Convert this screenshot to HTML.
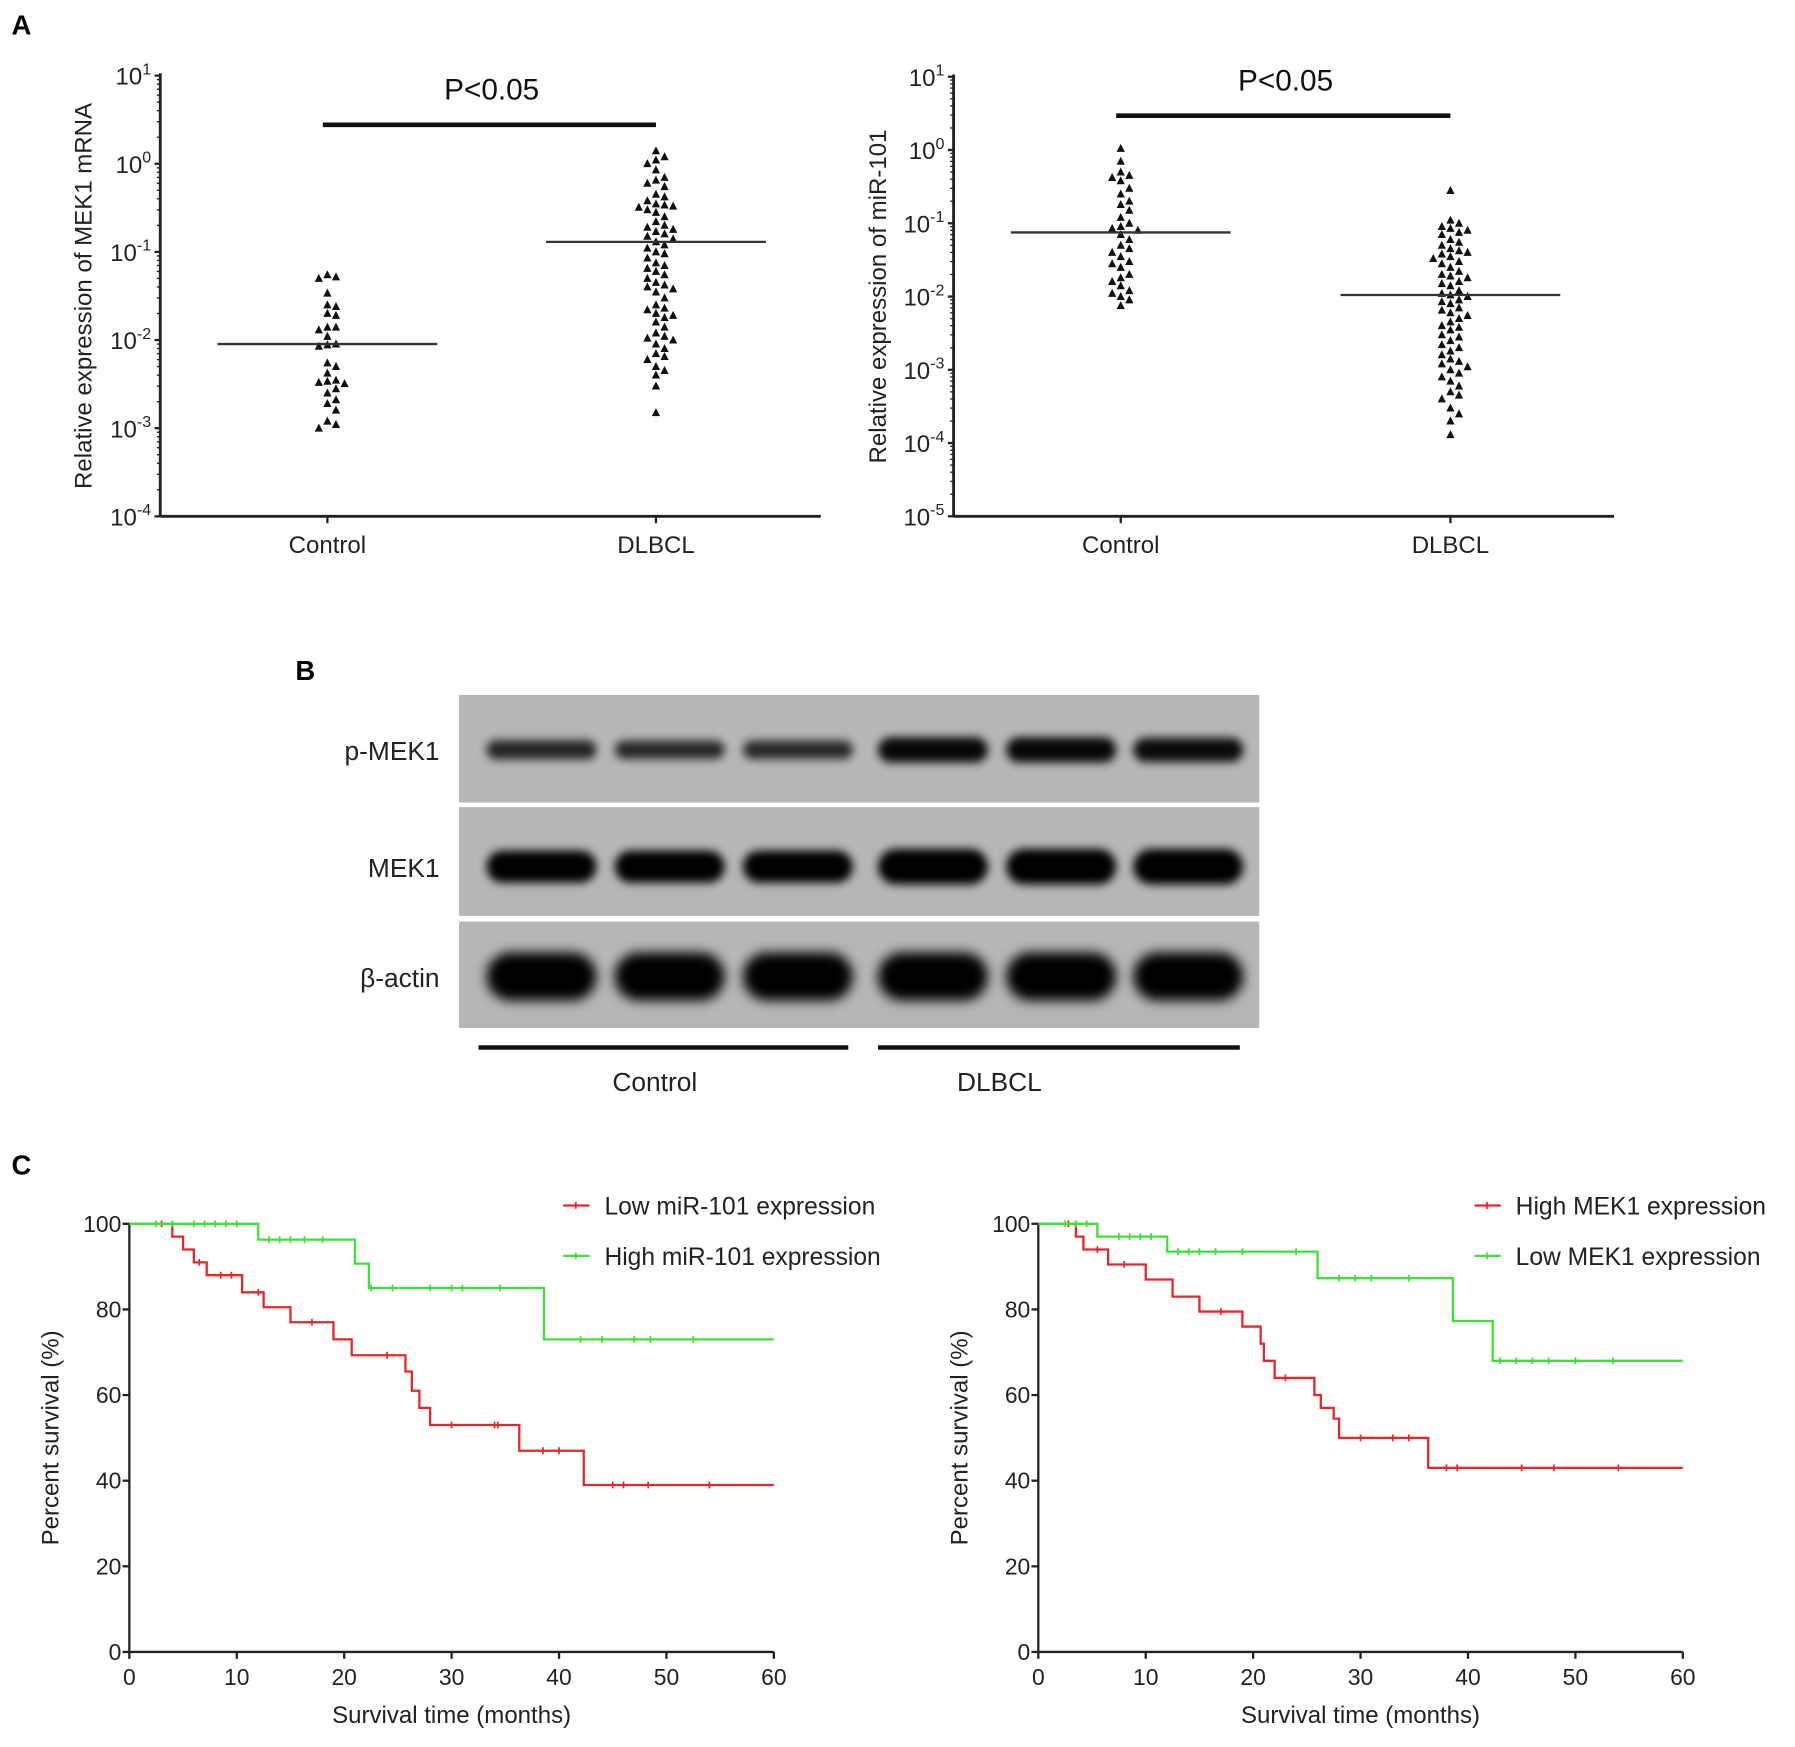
<!DOCTYPE html>
<html><head><meta charset="utf-8"><style>
html,body{margin:0;padding:0;background:#fff;}
svg{display:block;font-family:"Liberation Sans",Arial,sans-serif;}
</style></head><body>
<svg id="fig" width="1795" height="1747" viewBox="0 0 1568 1526" xmlns="http://www.w3.org/2000/svg">
<defs>
<filter id="blur" x="-20%" y="-50%" width="140%" height="200%"><feGaussianBlur stdDeviation="4"/></filter>
<filter id="blur2" x="-20%" y="-50%" width="140%" height="200%"><feGaussianBlur stdDeviation="5"/></filter>
</defs>
<g id="root"></g>
</svg>
<script>
// ---------- Panel A data ----------
const mekCategories = ["Control","DLBCL"];
const mekControl = [0.055,0.052,0.05,0.034,0.025,0.024,0.02,0.019,0.014,0.014,0.013,0.011,0.009,0.0088,0.0085,0.0055,0.005,0.0042,0.0035,0.0034,0.0033,0.0032,0.0028,0.0025,0.0021,0.0019,0.0016,0.0012,0.0011,0.001];
const mekDLBCL = [1.4,1.2,1.1,1.0,0.85,0.7,0.65,0.6,0.55,0.45,0.42,0.38,0.35,0.34,0.33,0.32,0.3,0.28,0.25,0.22,0.2,0.19,0.18,0.17,0.16,0.15,0.14,0.13,0.12,0.11,0.1,0.095,0.085,0.075,0.07,0.065,0.06,0.055,0.05,0.045,0.042,0.04,0.038,0.035,0.03,0.025,0.023,0.022,0.02,0.019,0.018,0.016,0.014,0.012,0.011,0.0105,0.01,0.009,0.008,0.007,0.0065,0.006,0.005,0.0045,0.004,0.003,0.0015];
const mekMedians = [0.009,0.13];
const mekTickExps = [1,0,-1,-2,-3,-4];
const mirControl = [1.05,0.7,0.5,0.45,0.42,0.38,0.3,0.25,0.2,0.18,0.15,0.12,0.1,0.09,0.085,0.08,0.07,0.06,0.05,0.045,0.04,0.035,0.03,0.028,0.025,0.02,0.018,0.016,0.014,0.012,0.011,0.01,0.009,0.0075];
const mirDLBCL = [0.28,0.11,0.1,0.09,0.085,0.08,0.075,0.07,0.06,0.055,0.05,0.045,0.042,0.04,0.038,0.035,0.033,0.03,0.028,0.025,0.022,0.02,0.019,0.018,0.016,0.015,0.014,0.012,0.011,0.0105,0.01,0.009,0.0085,0.008,0.007,0.0065,0.006,0.0055,0.005,0.0045,0.004,0.0038,0.0035,0.003,0.0028,0.0025,0.0022,0.002,0.0018,0.0016,0.0014,0.0013,0.0012,0.0011,0.001,0.0009,0.0008,0.0007,0.0006,0.0005,0.00045,0.0004,0.0003,0.00025,0.0002,0.00013];
const mirMedians = [0.075,0.0105];
const mirTickExps = [1,0,-1,-2,-3,-4,-5];

// ---------- Panel C data ----------
const kmTicksX = [0,10,20,30,40,50,60];
const kmTicksY = [0,20,40,60,80,100];
const lowMirTimes = [0,4,5,6,7.2,10.5,12.5,15,19,20.7,25.7,26.3,27,28,36.3,42.3,60];
const lowMirSurv  = [100,97,94,91,88,84,80.5,77,73,69.3,65.5,61,57,53,47,39,39];
const lowMirCens  = [3,6.5,8.5,9.5,12,17,24,30,34,34.3,38.5,40,45,46,48.3,54];
const highMirTimes = [0,12,21,22.3,38.6,60];
const highMirSurv  = [100,96.3,90.7,85,73,73];
const highMirCens  = [2.5,4,6,7,8,9,10,13,14,15,16.3,18,22.5,24.5,28,30,31,34.5,42,44,47,48.5,52.5];
const highMekTimes = [0,3.5,4.2,6.5,10,12.5,15,19,20.7,21,22,25.7,26.3,27.5,28,36.3,60];
const highMekSurv  = [100,97,94,90.5,87,83,79.5,76,72,68,64,60,57,54.5,50,43,43];
const highMekCens  = [2.8,5.5,8,17,23,30,33,34.5,38,39,45,48,54];
const lowMekTimes = [0,5.5,12,26,38.6,42.3,60];
const lowMekSurv  = [100,97,93.5,87.3,77.3,68,68];
const lowMekCens  = [2.5,3.5,4.5,7.5,8.5,9.5,10.5,13,14,15,16.5,19,24,28,29.5,31,34.5,43,44.5,46,47.5,50,53.5];

// ---------- Panel B data ----------
const blotLanes = ["Control 1","Control 2","Control 3","DLBCL 1","DLBCL 2","DLBCL 3"];
const pMekIntensity = [0.55,0.5,0.5,0.9,0.9,0.85];

const NS="http://www.w3.org/2000/svg";
const root=document.getElementById('root');
function mk(tag,attrs,parent){const e=document.createElementNS(NS,tag);for(const k in attrs)e.setAttribute(k,attrs[k]);(parent||root).appendChild(e);return e;}
function txt(s,attrs,parent){const e=mk('text',attrs,parent);e.textContent=s;return e;}

let L=txt('A',{x:10,y:30,'font-size':24,'font-weight':'bold'});

L=txt('B',{x:258,y:594,'font-size':24,'font-weight':'bold'});

L=txt('C',{x:10,y:1026,'font-size':24,'font-weight':'bold'});


function scatterPanel(cfg){
  const g=mk('g',{});
  
  
  const maxE=cfg.exps[0],minE=cfg.exps[cfg.exps.length-1];
  const y=v=>cfg.y0+(maxE-Math.log10(v))*(cfg.y1-cfg.y0)/(maxE-minE);
  const ya=mk('line',{x1:cfg.x0,y1:cfg.y0-2,x2:cfg.x0,y2:cfg.y1,stroke:'#222','stroke-width':2.5},g);
  
  const xa=mk('line',{x1:cfg.x0,y1:cfg.y1,x2:cfg.x2,y2:cfg.y1,stroke:'#222','stroke-width':2.5},g);
  
  cfg.exps.forEach(e=>{
    const yy=y(Math.pow(10,e));
    mk('line',{x1:cfg.x0-5,y1:yy,x2:cfg.x0,y2:yy,stroke:'#222','stroke-width':2},g);
    const t=mk('text',{x:cfg.x0-8,y:yy+8,'font-size':21,'text-anchor':'end',fill:'#222'},g);
    
    const a=document.createElementNS(NS,'tspan');a.textContent='10';t.appendChild(a);
    const b=document.createElementNS(NS,'tspan');b.setAttribute('dy',-9);b.setAttribute('font-size',14);b.textContent=String(e);t.appendChild(b);
    if(e>minE){for(let m=2;m<10;m++){const ym=y(m*Math.pow(10,e-1));mk('line',{x1:cfg.x0-3,y1:ym,x2:cfg.x0,y2:ym,stroke:'#222','stroke-width':1.2},g);}}
  });
  const tt=txt(cfg.title,{transform:`translate(${cfg.titleX},${(cfg.y0+cfg.y1)/2}) rotate(-90)`,'font-size':21,'text-anchor':'middle',fill:'#222'},g);
  
  const groups=[cfg.control,cfg.dlbcl];
  mekCategories.forEach((c,i)=>{
    const cx=cfg.cats[i];
    mk('line',{x1:cx,y1:cfg.y1,x2:cx,y2:cfg.y1+6,stroke:'#222','stroke-width':2},g);
    const t=txt(c,{x:cx,y:cfg.y1+32,'font-size':21,'text-anchor':'middle',fill:'#222'},g);
    
    const placed=[];
    const vals=groups[i].slice().sort((a,b)=>b-a);
    vals.forEach(v=>{
      const py=y(v);let off=0;
      for(let k=0;k<40;k++){const cand=(k%2?1:-1)*Math.ceil(k/2)*7.5;
        if(placed.every(p=>Math.hypot(p[0]-cand,p[1]-py)>6.8)){off=cand;break;}}
      placed.push([off,py]);
      const px=cx+off;
      const tri=mk('polygon',{points:`${px},${py-4} ${px-3.6},${py+3} ${px+3.6},${py+3}`,fill:'#111'},g);
      
    });
    const my=y(cfg.medians[i]);
    const ml=mk('line',{x1:cx-96,y1:my,x2:cx+96,y2:my,stroke:'#333','stroke-width':2},g);
    
  });
  const sb=mk('line',{x1:cfg.cats[0]-4,y1:cfg.barY,x2:cfg.cats[1],y2:cfg.barY,stroke:'#111','stroke-width':4},g);
  
  const pt=txt('P<0.05',{x:(cfg.cats[0]+cfg.cats[1])/2,y:cfg.barY-22,'font-size':26,'text-anchor':'middle',fill:'#111'},g);
  
}
scatterPanel({name:'mek1-mrna-scatter',x0:140,x2:717,y0:66,y1:451,exps:mekTickExps,cats:[286,573],control:mekControl,dlbcl:mekDLBCL,medians:mekMedians,title:'Relative expression of MEK1 mRNA',titleX:80,barY:109});
scatterPanel({name:'mir101-scatter',x0:833,x2:1410,y0:67,y1:451,exps:mirTickExps,cats:[979,1267],control:mirControl,dlbcl:mirDLBCL,medians:mirMedians,title:'Relative expression of miR-101',titleX:774,barY:101});

// ---------- Panel B ----------
(function(){
  const g=mk('g',{});
  
  const rows=[{n:'p-MEK1',y0:607,y1:701,cy:655,h:18},{n:'MEK1',y0:705,y1:800,cy:757,h:28},{n:'β-actin',y0:805,y1:898,cy:853,h:42}];
  const laneX=[473,585,697,815,927,1038];
  rows.forEach((r,ri)=>{
    const rr=mk('rect',{x:401,y:r.y0,width:699,height:r.y1-r.y0,fill:'#b6b6b6'},g);
    
    blotLanes.forEach((ln,i)=>{
      let h=r.h,op=1;
      if(ri===0){h=r.h*(0.5+0.8*pMekIntensity[i]);op=0.55+0.45*pMekIntensity[i];}
      if(ri===1&&i>=3)h=r.h+3;
      const b=mk('rect',{x:laneX[i]-48,y:r.cy-h/2,width:96,height:h,rx:h/2,fill:'#050505',opacity:op,filter:ri===2?'url(#blur2)':'url(#blur)'},g);
      
    });
    const t=txt(r.n,{x:384,y:r.cy+9,'font-size':23,'text-anchor':'end',fill:'#222'},g);
    
  });
  const l1=mk('line',{x1:418,y1:915,x2:741,y2:915,stroke:'#111','stroke-width':4},g);
  
  const l2=mk('line',{x1:767,y1:915,x2:1083,y2:915,stroke:'#111','stroke-width':4},g);
  
  let t=txt('Control',{x:572,y:953,'font-size':23,'text-anchor':'middle',fill:'#222'},g);
  
  t=txt('DLBCL',{x:873,y:953,'font-size':23,'text-anchor':'middle',fill:'#222'},g);
  
})();

// ---------- Panel C ----------
function kmPanel(cfg){
  const g=mk('g',{});
  
  const X=t=>cfg.x0+t*(cfg.x1-cfg.x0)/60;
  const Y=s=>cfg.y0-s*(cfg.y0-cfg.y1)/100;
  const ya=mk('line',{x1:cfg.x0,y1:cfg.y1-1,x2:cfg.x0,y2:cfg.y0,stroke:'#222','stroke-width':2},g);
  
  const xa=mk('line',{x1:cfg.x0,y1:cfg.y0,x2:cfg.x1,y2:cfg.y0,stroke:'#222','stroke-width':2},g);
  
  kmTicksX.forEach(v=>{mk('line',{x1:X(v),y1:cfg.y0,x2:X(v),y2:cfg.y0+6,stroke:'#222','stroke-width':2},g);
    const t=txt(String(v),{x:X(v),y:cfg.y0+29,'font-size':20,'text-anchor':'middle',fill:'#222'},g);
    });
  kmTicksY.forEach(v=>{mk('line',{x1:cfg.x0-6,y1:Y(v),x2:cfg.x0,y2:Y(v),stroke:'#222','stroke-width':2},g);
    const t=txt(String(v),{x:cfg.x0-7,y:Y(v)+7,'font-size':20,'text-anchor':'end',fill:'#222'},g);
    });
  let t=txt('Percent survival (%)',{transform:`translate(${cfg.x0-62},${(cfg.y0+cfg.y1)/2}) rotate(-90)`,'font-size':21,'text-anchor':'middle',fill:'#222'},g);
  
  t=txt('Survival time (months)',{x:(cfg.x0+cfg.x1)/2,y:cfg.y0+62,'font-size':21,'text-anchor':'middle',fill:'#222'},g);
  
  cfg.series.forEach((s,si)=>{
    let d=`M${X(s.t[0])},${Y(s.s[0])}`;
    for(let i=1;i<s.t.length;i++){d+=` H${X(s.t[i])} V${Y(s.s[i])}`;}
    const p=mk('path',{d:d,fill:'none',stroke:s.c,'stroke-width':2},g);
    
    s.cens.forEach(ct=>{let sv=s.s[0];for(let i=0;i<s.t.length;i++){if(s.t[i]<=ct)sv=s.s[i];}
      const m=mk('line',{x1:X(ct),y1:Y(sv)-3,x2:X(ct),y2:Y(sv)+3,stroke:s.c,'stroke-width':1.5},g);
      });
    const ly=cfg.legY+si*44;
    const lg=mk('g',{},g);
    
    mk('line',{x1:cfg.legX,y1:ly,x2:cfg.legX+23,y2:ly,stroke:s.c,'stroke-width':2},lg);
    mk('line',{x1:cfg.legX+11,y1:ly-3,x2:cfg.legX+11,y2:ly+3,stroke:s.c,'stroke-width':1.5},lg);
    txt(s.label,{x:cfg.legX+36,y:ly+8,'font-size':21.5,fill:'#222'},lg);
  });
}
kmPanel({name:'km-mir101',x0:113,x1:676,y0:1443,y1:1069,legX:492,legY:1053,series:[
  {id:'low-mir101',label:'Low miR-101 expression',c:'#e8262a',t:lowMirTimes,s:lowMirSurv,cens:lowMirCens},
  {id:'high-mir101',label:'High miR-101 expression',c:'#3de13a',t:highMirTimes,s:highMirSurv,cens:highMirCens}]});
kmPanel({name:'km-mek1',x0:907,x1:1470,y0:1443,y1:1069,legX:1288,legY:1053,series:[
  {id:'high-mek1',label:'High MEK1 expression',c:'#e8262a',t:highMekTimes,s:highMekSurv,cens:highMekCens},
  {id:'low-mek1',label:'Low MEK1 expression',c:'#3de13a',t:lowMekTimes,s:lowMekSurv,cens:lowMekCens}]});
</script>
</body></html>
